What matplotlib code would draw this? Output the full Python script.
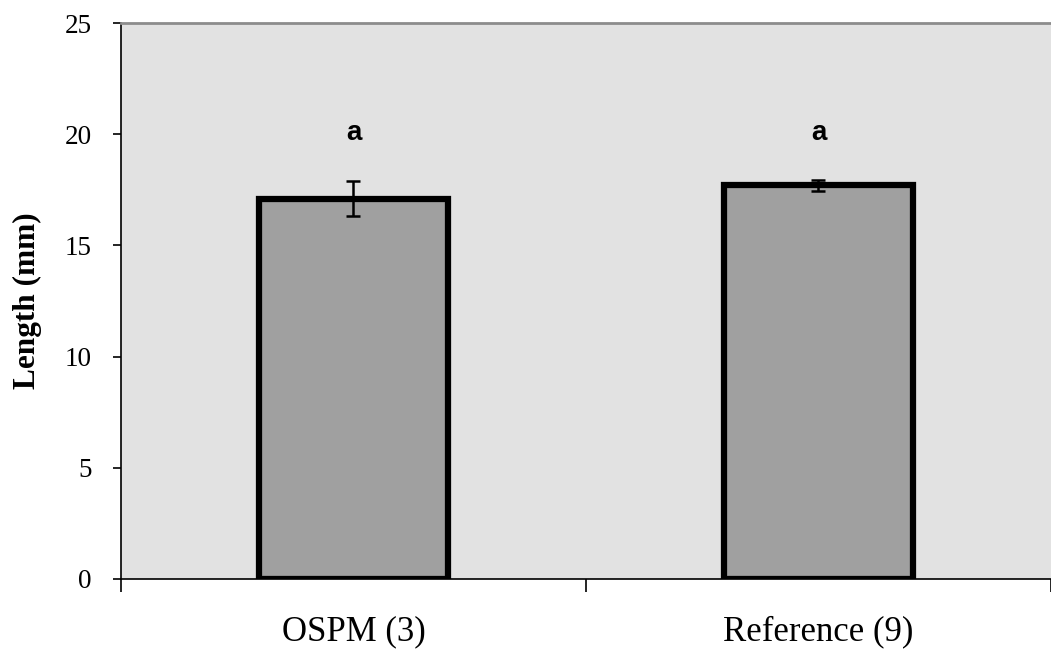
import numpy as np
import matplotlib.pyplot as plt

groups = ['OSPM (3)', 'Reference (9)']
lengths = [17.1, 17.7]
errors = [0.8, 0.25]
letters = ['a', 'a']

plt.rcParams['font.family'] = ['Liberation Serif', 'DejaVu Serif']

fig = plt.figure(figsize=(10.51, 6.54), dpi=100)
ax = fig.add_axes([0.1151, 0.1147, 0.8849, 0.8501])
ax.set_facecolor('#e2e2e2')

x = np.arange(len(groups))
ax.bar(x, lengths, width=0.405, color='#a0a0a0', edgecolor='black', linewidth=4.5, zorder=2)
ax.errorbar(x, lengths, yerr=errors, fmt='none', ecolor='black', elinewidth=1.8,
            capsize=4.7, capthick=1.8, zorder=3)
for xi, lab in zip(x, letters):
    ax.text(xi, 20.05, lab, ha='center', va='center', fontsize=20, fontweight='bold',
            family=['Liberation Sans', 'DejaVu Sans'])

ax.set_xlim(-0.5, 1.5)
ax.set_ylim(0, 25)
ax.set_yticks(np.arange(0, 26, 5))
ax.set_xticks([-0.5, 0.5, 1.5])
ax.set_xticklabels([])
ax.set_xticks(x, minor=True)
ax.set_xticklabels(groups, minor=True, fontsize=25)
ax.tick_params(axis='x', which='minor', length=0, pad=26)
ax.tick_params(axis='x', which='major', length=9, width=1.2, direction='out')
ax.tick_params(axis='y', labelsize=19.5, length=6, width=1.2, direction='out', pad=15)

ax.spines['right'].set_visible(False)
ax.spines['top'].set_color('#8c8c8c')
ax.spines['top'].set_linewidth(2)
ax.spines['left'].set_linewidth(1.2)
ax.spines['bottom'].set_linewidth(1.2)

fig.text(0.0257, 0.54, 'Length (mm)', rotation=90, ha='center', va='center',
         fontsize=22.5, fontweight='bold')

fig.savefig('out.png', dpi=100)
